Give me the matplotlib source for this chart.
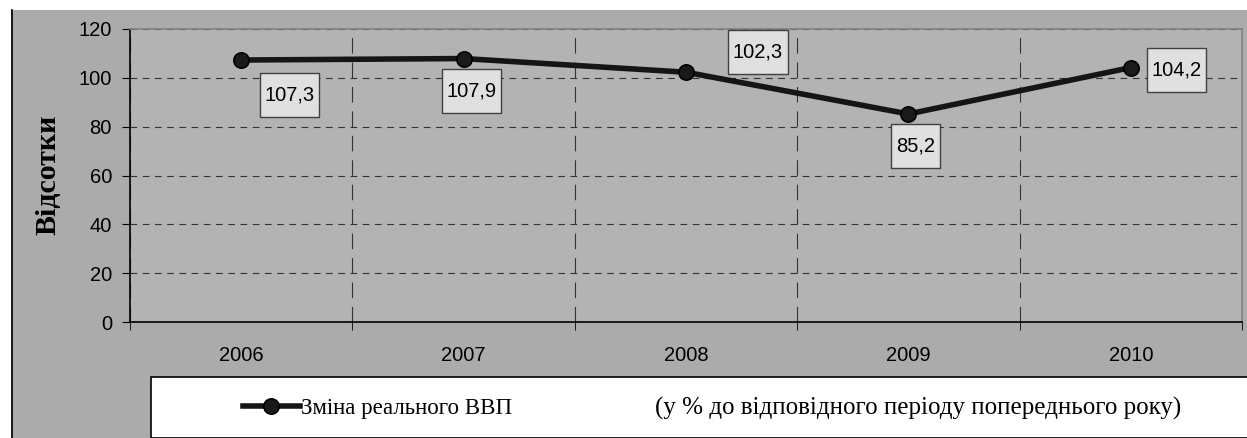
import numpy as np
import matplotlib
matplotlib.use("Agg")
import matplotlib.pyplot as plt
from matplotlib.patches import Rectangle
from matplotlib.path import Path
from matplotlib.lines import Line2D

# ── Data ────────────────────────────────────────────────────────────────────
years = ["2006", "2007", "2008", "2009", "2010"]
gdp_change = [107.3, 107.9, 102.3, 85.2, 104.2]
value_labels = ["107,3", "107,9", "102,3", "85,2", "104,2"]
y_ticks = [0, 20, 40, 60, 80, 100, 120]
series_name = "Зміна реального ВВП"
series_note = "(у % до відповідного періоду попереднього року)"
y_title = "Відсотки"

# label offsets (pixels) from each point to its box centre
label_offsets = [(48, -35), (8, -32), (72, 20), (7, -32), (46, -2)]

W, H = 1247, 438
fig = plt.figure(figsize=(W / 100, H / 100), dpi=100)
fig.patch.set_facecolor("white")

def fx(px):
    return px / W

def fy(py):
    return 1 - py / H

# grey chart area
fig.patches.append(Rectangle((fx(11), 0), 1 - fx(11), fy(10), transform=fig.transFigure,
                             facecolor="#ababab", edgecolor="none", zorder=-2))
fig.lines.append(Line2D([fx(11.5), fx(11.5)], [0, fy(10)], transform=fig.transFigure,
                        color="black", lw=1.2, zorder=-1))

ax = fig.add_axes([fx(130), fy(322), fx(1242) - fx(130), fy(29) - fy(322)])
ax.set_zorder(1)
ax.set_facecolor("#b3b3b3")

x = np.arange(len(years))
ax.plot(x, gdp_change, color="#151515", lw=4, marker="o", ms=11,
        mfc="#1a1a1a", mec="black", mew=1.2, zorder=5, label=series_name)

ax.set_xlim(-0.5, len(years) - 0.5)
ax.set_ylim(0, 120)
ax.set_yticks(y_ticks)
ax.set_xticks(x)
ax.set_xticklabels(years)
ax.set_xticks(np.arange(len(years) + 1) - 0.5, minor=True)
ax.tick_params(axis="x", which="major", length=0, pad=17, labelsize=14.5)
ax.tick_params(axis="x", which="minor", length=6, direction="out", color="black")
ax.tick_params(axis="y", length=6, direction="out", pad=7, labelsize=14.5)
for lab in ax.get_xticklabels() + ax.get_yticklabels():
    lab.set_fontfamily("Liberation Sans")

ax.grid(axis="y", which="major", color="#333333", linestyle=(0, (6, 5)), lw=0.8)
ax.grid(axis="x", which="minor", color="#333333", linestyle=(0, (14, 8)), lw=0.8)
ax.set_axisbelow(True)

for side in ["top", "right"]:
    ax.spines[side].set_color("#808080")
    ax.spines[side].set_linewidth(1.2)
for side in ["left", "bottom"]:
    ax.spines[side].set_color("black")
    ax.spines[side].set_linewidth(1.2)


def label_box(x0, y0, width, height, mutation_size):
    px = 0.23 * mutation_size
    py = 0.62 * mutation_size
    x0, y0 = x0 - px, y0 - py
    x1, y1 = x0 + width + 2 * px, y0 + height + 2 * py
    return Path([(x0, y0), (x1, y0), (x1, y1), (x0, y1), (x0, y0)], closed=True)


for xi, yi, txt, off in zip(x, gdp_change, value_labels, label_offsets):
    ax.annotate(txt, xy=(xi, yi), xytext=off, textcoords="offset pixels",
                ha="center", va="center", fontsize=14.5, family="Liberation Sans",
                bbox=dict(boxstyle=label_box, facecolor="#e0e0e0",
                          edgecolor="#404040", lw=1.0), zorder=6)

fig.text(fx(48), fy(175), y_title, rotation=90, ha="center", va="center",
         fontsize=21.5, fontweight="bold", family="Liberation Serif")

# legend box
fig.patches.append(Rectangle((fx(151), 0), 1 - fx(151) + 0.01, fy(377), transform=fig.transFigure,
                             facecolor="white", edgecolor="black", lw=1.2, zorder=2))
leg = fig.legend(handles=ax.get_lines(), loc="center left", bbox_to_anchor=(fx(222), fy(408)),
                 frameon=False, handlelength=2.5, handletextpad=0.05,
                 prop={"family": "Liberation Serif", "size": 16.5})
leg.set_zorder(3)
fig.text(fx(655), fy(408), series_note, ha="left", va="center",
         fontsize=18, family="Liberation Serif", zorder=3)

fig.savefig("out.png", dpi=100)
